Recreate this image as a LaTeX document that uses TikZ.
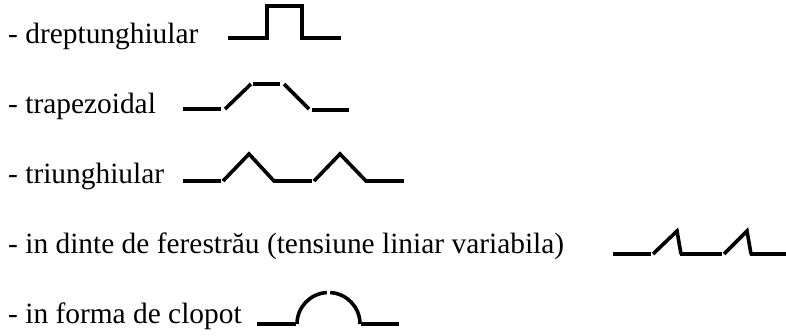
\documentclass[tikz,border=0pt]{standalone}
\usepackage{fontspec}
\setmainfont{Liberation Serif}
\begin{document}
\begin{tikzpicture}[x=1pt,y=-1pt,
  lbl/.style={anchor=base west,inner sep=0pt,font=\fontsize{29.4}{34}\selectfont},
  hseg/.style={line width=4.6pt},
  dseg/.style={line width=3.6pt},
  wave/.style={line width=4.4pt,line join=miter}]
\fill[white] (0,0) rectangle (786,335);
\useasboundingbox (0,0) rectangle (786,335);
% labels
\node[lbl] (t1) at (8,43) {- dreptunghiular};
\node[lbl] (t2) at (8,113) {- trapezoidal};
\node[lbl] (t3) at (8,183.5) {- triunghiular};
\node[lbl] (t4) at (8,253) {- in dinte de ferestrău (tensiune liniar variabila)};
\node[lbl] (t5) at (8,323) {- in forma de clopot};
% rectangular pulse
\draw[wave] (228,38) -- (267,38) -- (267,6) -- (302,6) -- (302,38) -- (341,38);
% trapezoidal
\draw[hseg] (183,109) -- (221,109);
\draw[dseg] (225,109) -- (251,84);
\draw[hseg] (253,84) -- (280,84);
\draw[dseg] (284,84) -- (309,109);
\draw[hseg] (312,110) -- (349,110);
% triangular
\draw[hseg] (183,181) -- (221,181);
\draw[dseg,line join=miter] (223,181) -- (249,154) -- (274,181);
\draw[hseg] (273,181) -- (312,181);
\draw[dseg,line join=miter] (314,181) -- (340,154) -- (366,181);
\draw[hseg] (365,181) -- (404,181);
% sawtooth
\draw[hseg] (613,254) -- (651,254);
\draw[dseg,line join=miter] (653,254) -- (677,231) -- (681,254);
\draw[hseg] (680,254) -- (722,254);
\draw[dseg,line join=miter] (724,254) -- (747,231) -- (751,254);
\draw[hseg] (750,254) -- (786,254);
% bell
\draw[hseg] (257,324) -- (296,324);
\draw[dseg] (297,324) arc[start angle=180,end angle=267,radius=31.5];
\draw[dseg] (360,324) arc[start angle=0,end angle=-87,radius=31.5];
\draw[hseg] (361,324) -- (399,324);
\end{tikzpicture}
\end{document}
